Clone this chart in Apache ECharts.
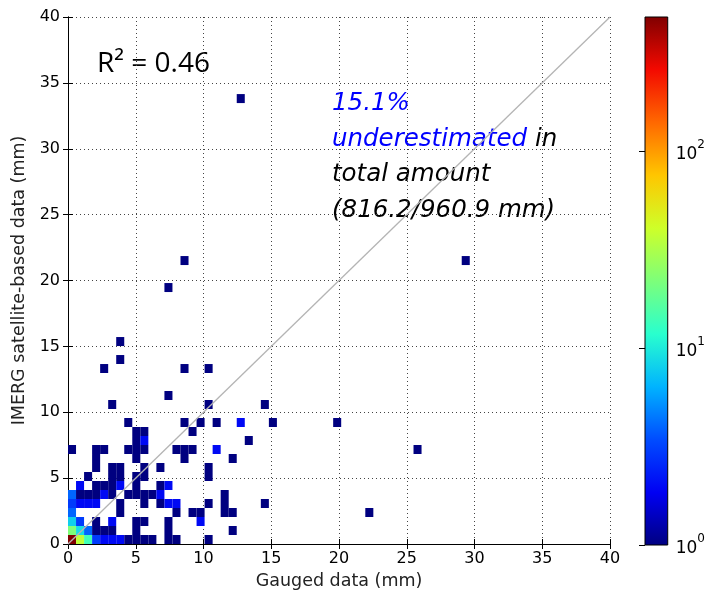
<!DOCTYPE html>
<html>
<head>
<meta charset="utf-8">
<script src="https://cdn.jsdelivr.net/npm/echarts@6/dist/echarts.min.js"></script>
</head>
<body style="margin:0">
<div id="container" style="width:708px;height:595px"></div>
<script>
// 2D histogram, 50 x 50 bins
var gaugedBin = 0.593;   // mm per bin (x)
var imergBin = 0.683;    // mm per bin (y)

// [gauged bin, imerg bin, count]
var cells = [
  [0,0,480],[1,0,36],[2,0,14],[3,0,3],[4,0,2],[5,0,2],[6,0,2],[7,0,1],[8,0,1],[9,0,1],[10,0,1],[12,0,1],[13,0,1],[17,0,1],
  [0,1,22],[1,1,9],[2,1,4],[3,1,1],[4,1,1],[5,1,1],[8,1,1],[12,1,1],[20,1,1],
  [0,2,8],[1,2,3],[3,2,1],[5,2,2],[8,2,1],[9,2,1],[12,2,1],[16,2,2],
  [0,3,4],[6,3,1],[13,3,1],[15,3,1],[16,3,1],[19,3,1],[20,3,1],[37,3,1],
  [0,4,3],[1,4,2],[2,4,2],[3,4,2],[6,4,1],[9,4,1],[11,4,1],[12,4,2],[13,4,2],[17,4,1],[19,4,1],[24,4,1],
  [0,5,4],[1,5,1],[2,5,1],[3,5,1],[4,5,2],[5,5,1],[7,5,1],[8,5,1],[9,5,1],[10,5,1],[11,5,2],[19,5,1],
  [1,6,2],[3,6,1],[4,6,1],[5,6,1],[6,6,2],[8,6,1],[11,6,1],[12,6,2],
  [2,7,1],[5,7,1],[6,7,1],[8,7,1],[9,7,1],[17,7,1],
  [3,8,1],[5,8,1],[6,8,1],[9,8,1],[11,8,1],[17,8,1],
  [3,9,1],[8,9,1],[14,9,1],[20,9,1],
  [0,10,1],[3,10,1],[4,10,1],[7,10,1],[8,10,1],[9,10,1],[13,10,1],[14,10,1],[15,10,1],[18,10,2],[43,10,1],
  [8,11,1],[9,11,2],[22,11,1],
  [8,12,1],[9,12,1],[15,12,1],
  [7,13,1],[14,13,1],[16,13,1],[18,13,1],[21,13,2],[25,13,1],[33,13,1],
  [5,15,1],[17,15,1],[24,15,1],
  [12,16,1],
  [4,19,1],[14,19,1],[17,19,1],
  [6,20,1],
  [6,22,1],
  [12,28,1],
  [14,31,1],[49,31,1],
  [21,49,1]
];

var oneToOne = [[0, 0], [40, 40]];
var countRange = [1, 480];
var colorTicks = [1, 10, 100];

var jet = ['#000080', '#0000f3', '#004cff', '#00b3ff', '#29ffce', '#7dff7a',
           '#ceff29', '#ffc600', '#ff6800', '#f30900', '#800000'];

var histData = cells.map(function (c) {
  return [c[0] * gaugedBin, c[1] * imergBin, Math.log10(c[2])];
});

function renderCell(params, api) {
  var p0 = api.coord([api.value(0), api.value(1)]);
  var p1 = api.coord([api.value(0) + gaugedBin, api.value(1) + imergBin]);
  return {
    type: 'rect',
    shape: { x: p0[0], y: p1[1], width: p1[0] - p0[0], height: p0[1] - p1[1] },
    style: { fill: api.visual('color') }
  };
}

function renderColorbar(params, api) {
  var p0 = api.coord([0, api.value(0)]);
  var p1 = api.coord([1, api.value(1)]);
  var stops = jet.map(function (c, i) { return { offset: i / (jet.length - 1), color: c }; });
  return {
    type: 'rect',
    shape: { x: p0[0], y: p1[1], width: p1[0] - p0[0], height: p0[1] - p1[1] },
    style: { fill: new echarts.graphic.LinearGradient(0, 1, 0, 0, stops), stroke: '#000', lineWidth: 1 }
  };
}

var tickFont = { fontFamily: 'DejaVu Sans', fontSize: 16, color: '#000' };
var titleFont = { fontFamily: 'DejaVu Sans', fontSize: 17.5, color: '#222' };
var frameLine = { show: true, lineStyle: { color: '#000', width: 1 } };
var innerTick = { show: true, inside: true, length: 5, lineStyle: { color: '#000' } };
var dotted = { show: true, lineStyle: { color: '#444', type: [1, 3], width: 1 } };

var chart = echarts.init(document.getElementById('container'));
var option = {
  backgroundColor: '#fff',
  animation: false,
  grid: [
    { left: 68, top: 17, width: 542, height: 528 },
    { left: 645, top: 17, width: 27, height: 528 }
  ],
  xAxis: [
    { type: 'value', gridIndex: 0, min: 0, max: 40, interval: 5, position: 'bottom',
      axisLine: frameLine, axisTick: innerTick, splitLine: dotted,
      axisLabel: Object.assign({ margin: 7 }, tickFont),
      name: 'Gauged data (mm)', nameLocation: 'middle', nameGap: 28, nameTextStyle: titleFont },
    { type: 'value', gridIndex: 0, min: 0, max: 40, interval: 5, position: 'top',
      axisLine: frameLine, axisTick: innerTick, axisLabel: { show: false }, splitLine: { show: false } },
    { type: 'value', gridIndex: 1, min: 0, max: 1, show: false }
  ],
  yAxis: [
    { type: 'value', gridIndex: 0, min: 0, max: 40, interval: 5, position: 'left',
      axisLine: frameLine, axisTick: innerTick, splitLine: dotted,
      axisLabel: Object.assign({ margin: 8 }, tickFont),
      name: 'IMERG satellite-based data (mm)', nameLocation: 'middle', nameGap: 37, nameTextStyle: titleFont },
    { type: 'value', gridIndex: 0, min: 0, max: 40, interval: 5, position: 'right',
      axisLine: frameLine, axisTick: innerTick, axisLabel: { show: false }, splitLine: { show: false } },
    { type: 'log', gridIndex: 1, min: countRange[0], max: countRange[1], logBase: 10, position: 'right',
      axisLine: { show: false },
      axisTick: { show: true, inside: true, length: 6, customValues: colorTicks, lineStyle: { color: '#000' } },
      splitLine: { show: false },
      axisLabel: {
        margin: 8, customValues: colorTicks,
        formatter: function (v) { return '{b|10}{e|' + Math.round(Math.log10(v)) + '}'; },
        rich: {
          b: { fontFamily: 'DejaVu Sans', fontSize: 17, color: '#000', verticalAlign: 'bottom', lineHeight: 24 },
          e: { fontFamily: 'DejaVu Sans', fontSize: 12, color: '#000', verticalAlign: 'top', lineHeight: 24 }
        }
      } }
  ],
  visualMap: {
    show: false, seriesIndex: 0, dimension: 2,
    min: 0, max: Math.log10(countRange[1]),
    inRange: { color: jet }
  },
  series: [
    { type: 'custom', xAxisIndex: 0, yAxisIndex: 0, renderItem: renderCell, data: histData, clip: true, z: 2 },
    { type: 'line', xAxisIndex: 0, yAxisIndex: 0, data: oneToOne, symbol: 'none', silent: true, z: 3,
      lineStyle: { color: '#b4b4b4', width: 1.3 } },
    { type: 'custom', xAxisIndex: 2, yAxisIndex: 2, renderItem: renderColorbar, data: [countRange], z: 2 }
  ],
  graphic: [
    { type: 'text', left: 97, top: 50,
      style: { text: 'R² = 0.46', fontFamily: 'Open Sans', fontSize: 28, fill: '#000' } },
    { type: 'text', left: 332, top: 86,
      style: {
        text: '{b|15.1%}\n{b|underestimated}{k| in}\n{k|total amount}\n{k|(816.2/960.9 mm)}',
        fontFamily: 'DejaVu Sans', fontSize: 24.5, fontStyle: 'italic', lineHeight: 35.5,
        rich: {
          b: { fill: '#0000ff', fontFamily: 'DejaVu Sans', fontSize: 24.5, fontStyle: 'italic', lineHeight: 35.5 },
          k: { fill: '#000', fontFamily: 'DejaVu Sans', fontSize: 24.5, fontStyle: 'italic', lineHeight: 35.5 }
        }
      } }
  ]
};
chart.setOption(option);
</script>
</body>
</html>
